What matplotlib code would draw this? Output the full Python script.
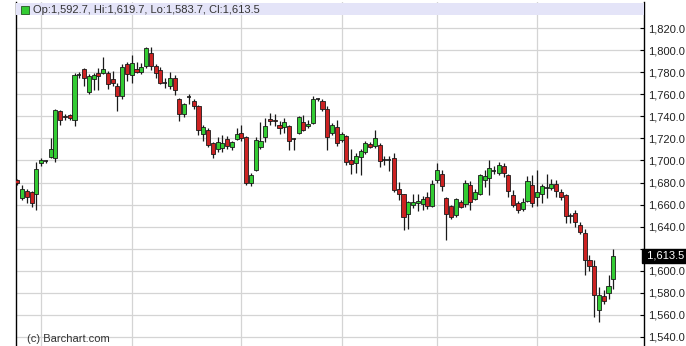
import numpy as np
import matplotlib
matplotlib.use("Agg")
import matplotlib.pyplot as plt
from matplotlib.patches import Rectangle

# daily OHLC (oldest first)
opens = [1682, 1666, 1672, 1671, 1670, 1698, 1699.5, 1703, 1702, 1745,
         1740, 1741.5, 1737, 1777.5, 1783, 1762, 1774, 1779, 1779, 1779,
         1773.5, 1767, 1758, 1787.5, 1777.5, 1782.5, 1780.5, 1785.5, 1797.5, 1785.5,
         1782, 1770.3, 1767, 1774.5, 1756, 1742, 1757.2, 1754, 1749, 1724,
         1728, 1715.5, 1710, 1711, 1719, 1712, 1719.5, 1724.5, 1721, 1680,
         1691.5, 1712, 1721.5, 1737.5, 1737, 1732, 1730, 1731, 1719.3, 1725,
         1734.5, 1731, 1733.5, 1755.5, 1754, 1747, 1724.5, 1730, 1718.5, 1722,
         1700.5, 1698, 1703.5, 1708, 1715, 1713, 1714, 1700, 1700, 1702,
         1674.5, 1669.5, 1651.5, 1659.5, 1661, 1660.5, 1667, 1658.5, 1682, 1688,
         1666, 1658.5, 1650.5, 1662, 1660.5, 1677.5, 1665, 1670, 1682.5, 1684,
         1690, 1688.5, 1695, 1687, 1669, 1661, 1655.7, 1663.5, 1677.5, 1666.5,
         1669.5, 1675, 1675, 1678.5, 1671.5, 1668.5, 1649.3, 1652.5, 1641.5, 1634,
         1610, 1604, 1564.5, 1577, 1579.5, 1592.7]
highs = [1683, 1678, 1674, 1672, 1699, 1702.5, 1700, 1720, 1747, 1746,
         1742, 1742, 1779, 1780, 1784, 1778, 1779, 1784, 1794, 1781,
         1781, 1770, 1787, 1789, 1795.5, 1789, 1788, 1803, 1803, 1787,
         1785, 1775, 1780, 1777, 1757, 1752, 1760, 1756, 1750, 1732,
         1729, 1717, 1721.5, 1723, 1722, 1718, 1729, 1732, 1722, 1689,
         1721, 1735, 1738, 1743, 1742, 1736, 1738, 1732, 1720, 1740,
         1741, 1737, 1758, 1757, 1756, 1749, 1734, 1737, 1726, 1723,
         1710, 1707, 1710, 1718, 1717, 1727.5, 1716, 1704, 1704, 1706.5,
         1680.5, 1670, 1663, 1670, 1670, 1668, 1671, 1682, 1698, 1691,
         1667, 1660, 1666, 1664, 1682, 1681, 1674, 1688, 1691, 1700,
         1695, 1699, 1698, 1688, 1673, 1663, 1666, 1686, 1687, 1691,
         1679, 1688, 1683, 1682, 1674, 1669.5, 1652, 1655, 1644, 1638,
         1614, 1610, 1585.5, 1583, 1596, 1619.7]
lows = [1678, 1664, 1661, 1658, 1655, 1695, 1698, 1702, 1699, 1732,
        1737, 1737, 1731, 1775, 1767, 1760, 1764, 1764, 1778, 1765,
        1767, 1745, 1756, 1772, 1770, 1779, 1778, 1784, 1782, 1775,
        1769, 1766, 1765, 1759, 1736, 1739, 1751.5, 1747, 1723, 1718,
        1712, 1702, 1708, 1708, 1710, 1709, 1718.5, 1718, 1678, 1677,
        1690, 1710, 1717, 1732, 1731, 1724, 1725, 1709, 1709, 1724,
        1727, 1729, 1733, 1754, 1745, 1709.5, 1723, 1713, 1717, 1696,
        1688, 1689, 1687, 1706, 1711, 1711, 1694, 1696, 1690, 1671,
        1664, 1637, 1638, 1657, 1654, 1655.5, 1656, 1658, 1680, 1672,
        1628, 1647, 1649, 1657, 1658, 1655, 1664, 1669, 1676, 1669,
        1688, 1687, 1685, 1666.5, 1658, 1652.5, 1654, 1662, 1658, 1658.5,
        1661.5, 1666, 1673, 1666.5, 1664, 1643.5, 1643, 1640, 1633, 1596,
        1600, 1558, 1554, 1570, 1574, 1583.7]
closes = [1680, 1674, 1667, 1661, 1692, 1700, 1699, 1710, 1746, 1737,
          1739, 1738, 1777, 1777, 1775, 1776.5, 1777, 1776.5, 1782.5, 1769,
          1770.5, 1758, 1785, 1778, 1788, 1780, 1784.5, 1801.5, 1785.5, 1779.5,
          1770, 1770, 1775, 1764, 1742, 1751, 1757, 1749, 1728, 1730.5,
          1714, 1706, 1717, 1716, 1713, 1716.5, 1723.5, 1720, 1679.5, 1687,
          1718.5, 1718, 1731, 1735.5, 1735.5, 1729, 1734.5, 1718, 1719, 1739,
          1728, 1733, 1756, 1755, 1747, 1721, 1732, 1716, 1724, 1699,
          1697, 1704, 1708.5, 1716, 1712.5, 1720, 1699.5, 1699.7, 1700.3, 1673,
          1670, 1649, 1662, 1662, 1663, 1665.5, 1658.5, 1678.5, 1691, 1677,
          1651.5, 1649, 1665, 1658, 1680, 1662.5, 1671.5, 1687, 1686, 1693,
          1690.3, 1696, 1689, 1672, 1660, 1655, 1662.5, 1681.5, 1661.5, 1671,
          1676.5, 1674.7, 1679, 1672, 1667, 1649.5, 1649, 1644.5, 1635.5, 1610,
          1604, 1578, 1578, 1573, 1586.5, 1613.5]

price_ticks = list(range(1540, 1821, 20))
month_starts = [5, 24, 47, 68, 88, 109]
header_text = "Op:1,592.7, Hi:1,619.7, Lo:1,583.7, Cl:1,613.5"

plt.rcParams['font.family'] = ['Liberation Sans', 'DejaVu Sans']

W, H = 686, 346
fig = plt.figure(figsize=(W / 100, H / 100), dpi=100)
ax = fig.add_axes([16 / W, 0, (644 - 16) / W, (H - 2) / H])

o = np.array(opens)
h = np.array(highs)
l = np.array(lows)
c = np.array(closes)
x = np.arange(len(o))

up = c > o
green, red, edge = '#33cc33', '#cc2222', '#1a1a1a'

ax.vlines(x, l, h, color=edge, lw=0.9, zorder=3)
body_lo = np.minimum(o, c)
body_h = np.maximum(np.abs(c - o), 1.2)
doji = np.abs(c - o) < 0.6
cols = np.array([green if u else red for u in up])
ax.bar(x[~doji], body_h[~doji], bottom=body_lo[~doji], width=0.86,
       color=cols[~doji], edgecolor=edge, linewidth=0.6, zorder=4)
ax.hlines(o[doji], x[doji] - 0.45, x[doji] + 0.45, color=edge, lw=1.2, zorder=4)

# axes scaling (pixel fit to the reference)
px_per_bar = (613.3 - 17.3) / (len(o) - 1)
ax.set_xlim((16 - 17.3) / px_per_bar, (644 - 17.3) / px_per_bar)
px_per_pt = (337 - 28) / 280
ax.set_ylim(1820 - (346 - 28) / px_per_pt, 1820 + (28 - 2) / px_per_pt)

for p in price_ticks:
    ax.axhline(p, color='#d4d4d4', lw=0.9, zorder=1)
for m in month_starts:
    ax.axvline(m, color='#d4d4d4', lw=0.9, zorder=1)

last = closes[-1]
# the last-price tag hides the tick label right behind it
tick_labels = ["" if abs(p - last) < 10 else f"{p:,.1f}" for p in price_ticks]

ax.yaxis.tick_right()
ax.set_yticks(price_ticks)
ax.set_yticklabels(tick_labels, fontsize=8, color='#222222')
ax.tick_params(axis='y', direction='in', length=3, width=0.8, pad=3)
ax.set_xticks([])
for s in ['top', 'bottom']:
    ax.spines[s].set_visible(False)
for s in ['left', 'right']:
    ax.spines[s].set_linewidth(1.0)
    ax.spines[s].set_color('black')

# header strip
ax.add_patch(Rectangle((0, 1 - 13 / 344), 1, 12 / 344, transform=ax.transAxes,
                       facecolor='#e4e4f8', edgecolor='none', zorder=5))
ax.add_patch(Rectangle((5 / 628, 1 - 12 / 344), 8 / 628, 8 / 344, transform=ax.transAxes,
                       facecolor=green, edgecolor='#225522', lw=0.6, zorder=6))
ax.text(17 / 628, 1 - 8 / 344, header_text, transform=ax.transAxes,
        fontsize=8, color='#333333', va='center', ha='left', zorder=6)

# last price tag
ax.text(1.0, last, f" {last:,.1f}", transform=ax.get_yaxis_transform(),
        fontsize=8, color='white', va='center', ha='left', zorder=7, clip_on=False,
        bbox=dict(boxstyle='square,pad=0.15', facecolor='black', edgecolor='black'))

ax.text(11 / 628, 1 - 337 / 344, "(c) Barchart.com", transform=ax.transAxes,
        fontsize=8, color='#333333', va='center', ha='left', zorder=6)

fig.savefig("out.png", dpi=100)
